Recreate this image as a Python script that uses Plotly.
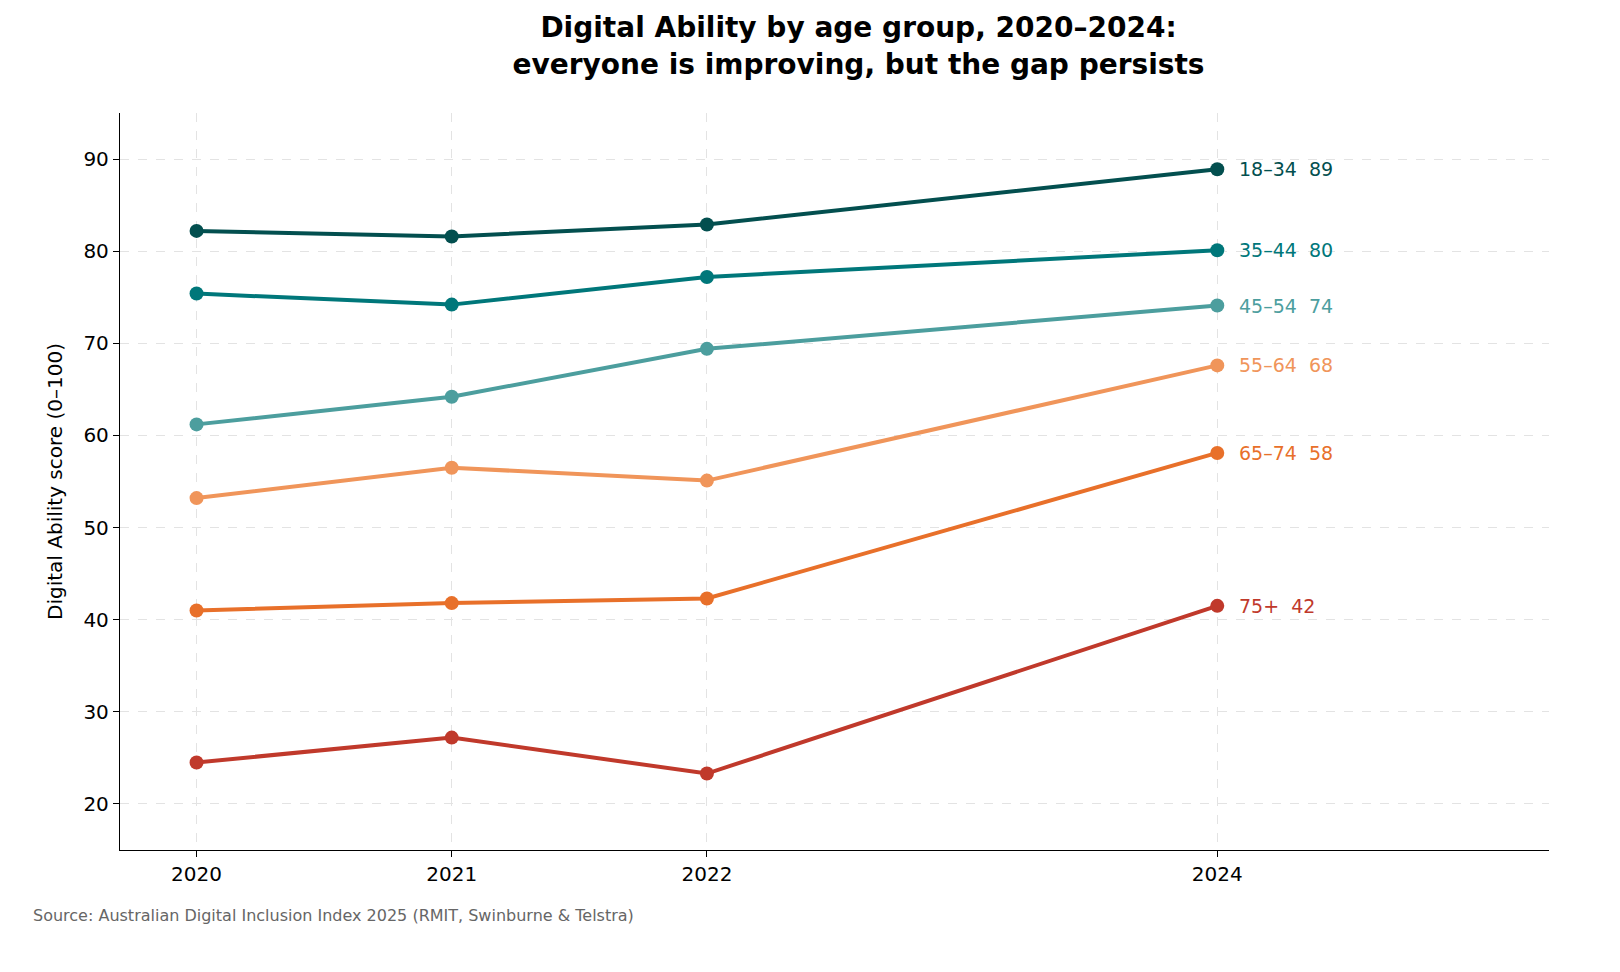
import plotly.graph_objects as go

years = [2020, 2021, 2022, 2024]
groups = ["18–34", "35–44", "45–54", "55–64", "65–74", "75+"]
scores = [
    [82.2, 81.6, 82.9, 88.9],
    [75.4, 74.2, 77.2, 80.1],
    [61.2, 64.2, 69.4, 74.1],
    [53.2, 56.5, 55.1, 67.6],
    [41.0, 41.8, 42.3, 58.1],
    [24.5, 27.2, 23.3, 41.5],
]
colors = ["#034f4f", "#00777a", "#4c9e9e", "#f0955a", "#e8702a", "#c0392b"]

fig = go.Figure()
for name, vals, c in zip(groups, scores, colors):
    fig.add_trace(go.Scatter(
        x=years, y=vals, mode="lines+markers", name=name,
        line=dict(color=c, width=4), marker=dict(size=14, color=c),
    ))
    fig.add_annotation(
        x=years[-1], y=vals[-1], text=f"{name}  {round(vals[-1])}",
        showarrow=False, xanchor="left", xshift=20,
        font=dict(size=19, color=c),
    )

fig.add_annotation(
    xref="paper", yref="paper", x=-0.062, y=-0.105, xanchor="left",
    text="Source: Australian Digital Inclusion Index 2025 (RMIT, Swinburne & Telstra)",
    showarrow=False, font=dict(size=16, color="#666666"),
)

grid = dict(showgrid=True, gridcolor="#e3e3e3", griddash="dash", gridwidth=1,
            showline=True, linecolor="black", linewidth=1.3,
            ticks="outside", ticklen=6, tickcolor="black", zeroline=False,
            tickfont=dict(size=20, color="black"))

fig.update_layout(
    width=1620, height=972,
    plot_bgcolor="white", paper_bgcolor="white",
    font=dict(family="DejaVu Sans", color="black"),
    showlegend=False,
    margin=dict(l=112, r=79, t=105, b=130),
    title=dict(
        text="<b>Digital Ability by age group, 2020–2024:<br>everyone is improving, but the gap persists</b>",
        x=0.525, xanchor="center", y=0.97, yanchor="top",
        font=dict(size=28),
    ),
    xaxis=dict(range=[2019.7, 2025.3], tickvals=years, **grid),
    yaxis=dict(range=[15, 95], dtick=10,
               title=dict(text="Digital Ability score (0–100)", font=dict(size=20)),
               **grid),
)

fig.write_html("out.html")
